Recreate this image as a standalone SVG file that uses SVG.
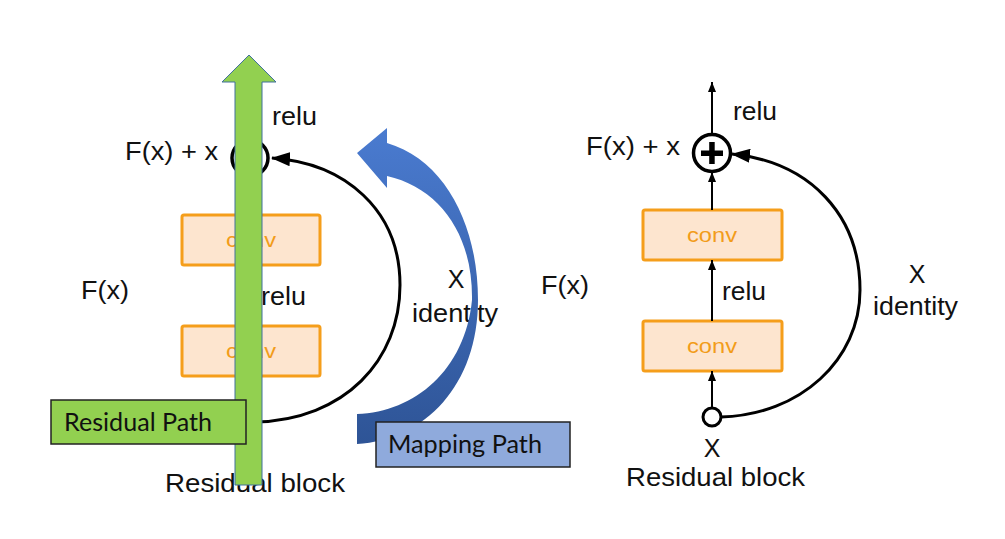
<svg xmlns="http://www.w3.org/2000/svg" width="1005" height="539" viewBox="0 0 1005 539">
<style>
.t{font-family:"Liberation Sans",Arial,sans-serif;font-size:25px;fill:#111}
.cv{font-family:"Liberation Sans",Arial,sans-serif;font-size:20px;fill:#f29c1a;text-anchor:middle}
.box{fill:#fde5cf;stroke:#f59e1b;stroke-width:3}
.ln{fill:none;stroke:#000;stroke-width:3}
.thin{fill:none;stroke:#000;stroke-width:2}
.lab{font-family:Lato,"Open Sans",sans-serif;font-size:25px;fill:#111}
</style>
<defs>
<marker id="big" markerUnits="userSpaceOnUse" markerWidth="20" markerHeight="14" refX="18" refY="7" orient="auto">
<path d="M0,0 L19,7 L0,14 z" fill="#000"/>
</marker>
<marker id="sm" markerUnits="userSpaceOnUse" markerWidth="10" markerHeight="8" refX="10" refY="4" orient="auto">
<path d="M0,0 L10,4 L0,8 z" fill="#000"/>
</marker>
<linearGradient id="bg" x1="0" y1="0" x2="0" y2="1">
<stop offset="0" stop-color="#4a7bd0"/>
<stop offset="1" stop-color="#2e5496"/>
</linearGradient>
</defs>
<rect width="1005" height="539" fill="#fff"/>

<!-- left diagram -->
<g id="left-conv1"><rect class="box" x="182" y="215" width="138" height="50" rx="2"/><text class="cv" x="251" y="247" textLength="50" lengthAdjust="spacingAndGlyphs">conv</text></g>
<g id="left-conv2"><rect class="box" x="182" y="326" width="138" height="50" rx="2"/><text class="cv" x="251" y="358" textLength="50" lengthAdjust="spacingAndGlyphs">conv</text></g>
<g id="left-labels">
<text class="t" x="125" y="160" textLength="93" lengthAdjust="spacingAndGlyphs">F(x) + x</text>
<text class="t" x="272" y="125" textLength="45" lengthAdjust="spacingAndGlyphs">relu</text>
<text class="t" x="261" y="305" textLength="45" lengthAdjust="spacingAndGlyphs">relu</text>
<text class="t" x="81" y="299" textLength="48" lengthAdjust="spacingAndGlyphs">F(x)</text>
<text class="t" x="456" y="288" text-anchor="middle">X</text>
<text class="t" x="412" y="322" textLength="86" lengthAdjust="spacingAndGlyphs">identity</text>
<text class="t" x="165" y="492" textLength="180" lengthAdjust="spacingAndGlyphs">Residual block</text>
</g>
<g id="left-connectors">
<path class="ln" d="M 255,422 C 345,420 400,360 400,285 C 400,210 345,163 272,158" marker-end="url(#big)"/>
</g>
<g id="left-sum"><circle cx="250" cy="158" r="18" fill="none" stroke="#000" stroke-width="3.5"/></g>
<g id="mapping-arrow">
<path d="M 357,153 L 387,128 L 387,143 C 445,160 478,225 478,300 C 478,385 425,440 357,444 L 357,414 C 415,412 465,370 472,300 C 473,235 440,188 387,176 L 387,188 Z" fill="url(#bg)"/>
</g>
<g id="residual-arrow">
<polygon points="249,55 276,82 262,82 262,485 235,485 235,82 222,82" fill="#92d050" stroke="#41719c" stroke-width="1"/>
</g>
<g id="residual-path-label">
<rect x="51" y="400" width="195" height="44" fill="#92d050" stroke="#222" stroke-width="1.5"/>
<text class="lab" x="64" y="431" textLength="148" lengthAdjust="spacingAndGlyphs">Residual Path</text>
</g>
<g id="mapping-path-label">
<rect x="376" y="422" width="194" height="45" fill="#8faadc" stroke="#222" stroke-width="1.5"/>
<text class="lab" x="388" y="453" textLength="154" lengthAdjust="spacingAndGlyphs">Mapping Path</text>
</g>

<!-- right diagram -->
<g id="right-conv1"><rect class="box" x="643" y="210" width="139" height="50" rx="2"/><text class="cv" x="712" y="242" textLength="50" lengthAdjust="spacingAndGlyphs">conv</text></g>
<g id="right-conv2"><rect class="box" x="643" y="321" width="139" height="50" rx="2"/><text class="cv" x="712" y="353" textLength="50" lengthAdjust="spacingAndGlyphs">conv</text></g>
<g id="right-connectors">
<line class="thin" x1="712" y1="134" x2="712" y2="82" marker-end="url(#sm)"/>
<line class="thin" x1="712" y1="210" x2="712" y2="172" marker-end="url(#sm)"/>
<line class="thin" x1="712" y1="321" x2="712" y2="260" marker-end="url(#sm)"/>
<line class="thin" x1="712" y1="407" x2="712" y2="371" marker-end="url(#sm)"/>
<path class="ln" d="M 721,417 C 800,415 860,360 860,290 C 860,215 810,162 732,154" marker-end="url(#big)"/>
</g>
<g id="right-sum">
<circle cx="712" cy="153" r="18.5" fill="#fff" stroke="#000" stroke-width="3.5"/>
<rect x="701" y="150.5" width="22" height="5.5" fill="#000"/>
<rect x="709.2" y="142" width="5.5" height="22" fill="#000"/>
</g>
<g id="right-input"><circle cx="712" cy="417" r="9" fill="#fff" stroke="#000" stroke-width="3"/></g>
<g id="right-labels">
<text class="t" x="586" y="155" textLength="94" lengthAdjust="spacingAndGlyphs">F(x) + x</text>
<text class="t" x="733" y="120" textLength="44" lengthAdjust="spacingAndGlyphs">relu</text>
<text class="t" x="722" y="300" textLength="44" lengthAdjust="spacingAndGlyphs">relu</text>
<text class="t" x="541" y="294" textLength="48" lengthAdjust="spacingAndGlyphs">F(x)</text>
<text class="t" x="917" y="283" text-anchor="middle">X</text>
<text class="t" x="873" y="315" textLength="85" lengthAdjust="spacingAndGlyphs">identity</text>
<text class="t" x="712" y="457" text-anchor="middle" font-size="24">X</text>
<text class="t" x="626" y="486" textLength="179" lengthAdjust="spacingAndGlyphs">Residual block</text>
</g>
</svg>
